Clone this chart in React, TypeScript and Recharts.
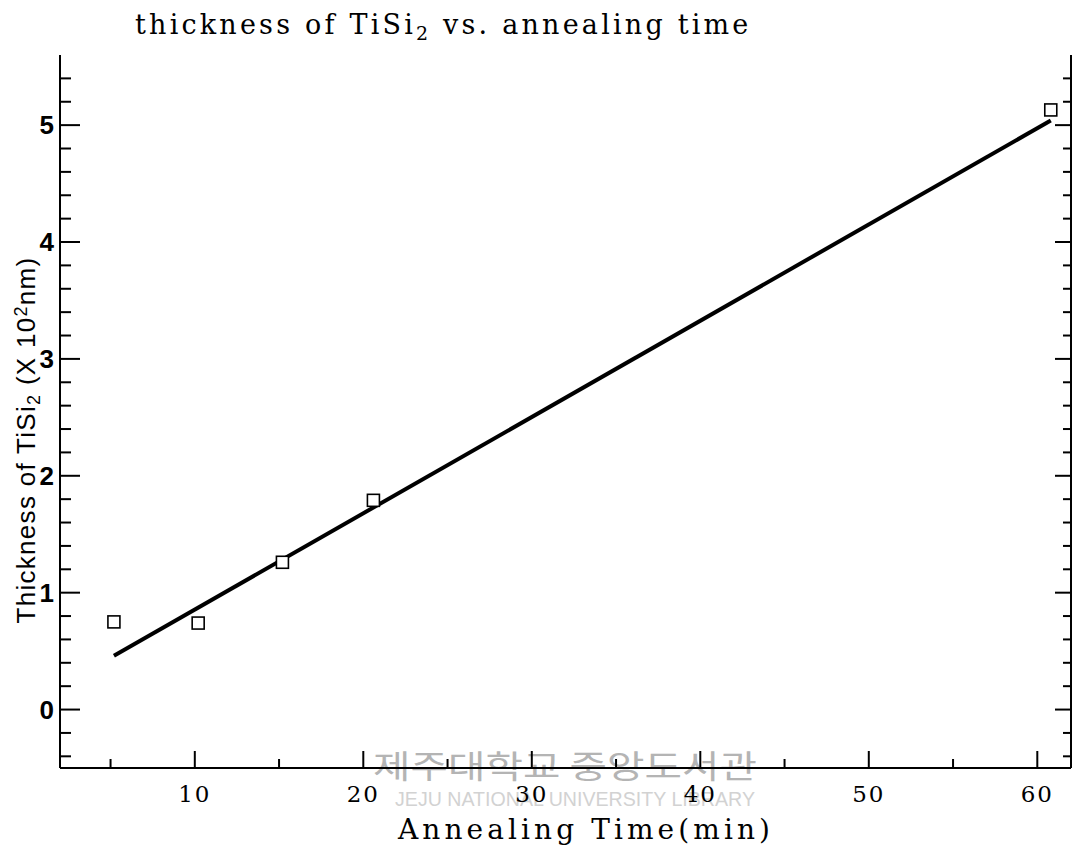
import React from "react";
import { ComposedChart, Scatter, XAxis, YAxis } from "recharts";

const measured = [
  { x: 5.2, y: 0.75 },
  { x: 10.2, y: 0.74 },
  { x: 15.2, y: 1.26 },
  { x: 20.6, y: 1.79 },
  { x: 60.8, y: 5.13 },
];
const fitLine = [
  { x: 5.2, y: 0.46 },
  { x: 60.8, y: 5.04 },
];
const xTicks = [5, 10, 15, 20, 25, 30, 35, 40, 45, 50, 55, 60];
const yTicks = [-0.4, -0.2, 0, 0.2, 0.4, 0.6, 0.8, 1, 1.2, 1.4, 1.6, 1.8, 2, 2.2, 2.4, 2.6, 2.8, 3, 3.2, 3.4, 3.6, 3.8, 4, 4.2, 4.4, 4.6, 4.8, 5, 5.2, 5.4];
const xDomain = [2, 62];
const yDomain = [-0.5, 5.6];
const titleText = "thickness of TiSi";
const xLabel = "Annealing Time(min)";
const watermarkKr = "제주대학교 중앙도서관";
const watermarkEn = "JEJU NATIONAL UNIVERSITY LIBRARY";

const isMajorY = (v: number) => Math.abs(v - Math.round(v)) < 1e-6;
const isMajorX = (v: number) => v % 10 === 0;

const BottomTick = (p: any) => {
  const v = p.payload.value;
  const major = isMajorX(v);
  return (
    <g>
      <line x1={p.x} x2={p.x} y1={p.y} y2={p.y - (major ? 17 : 9)} stroke="#000" strokeWidth={2} />
      {major && (
        <text x={p.x} y={p.y + 34} textAnchor="middle" fontFamily="DejaVu Serif" fontSize={23} letterSpacing={2} fill="#000">
          {v}
        </text>
      )}
    </g>
  );
};
const TopTick = (p: any) => {
  const major = isMajorX(p.payload.value);
  return <line x1={p.x} x2={p.x} y1={p.y} y2={p.y + (major ? 18 : 10)} stroke="#000" strokeWidth={2} />;
};
const LeftTick = (p: any) => {
  const v = p.payload.value;
  const major = isMajorY(v);
  return (
    <g>
      <line x1={p.x} x2={p.x + (major ? 20 : 11)} y1={p.y} y2={p.y} stroke="#000" strokeWidth={2} />
      {major && (
        <text x={p.x - 6} y={p.y + 9} textAnchor="end" fontFamily="Liberation Sans" fontWeight="bold" fontSize={26} fill="#000">
          {Math.round(v)}
        </text>
      )}
    </g>
  );
};
const RightTick = (p: any) => {
  const major = isMajorY(p.payload.value);
  return <line x1={p.x} x2={p.x - (major ? 16 : 8)} y1={p.y} y2={p.y} stroke="#000" strokeWidth={2} />;
};
const Square = (p: any) => (
  <rect x={p.cx - 6} y={p.cy - 6} width={12} height={12} fill="#fff" stroke="#000" strokeWidth={1.6} />
);
const NoShape = () => <g />;

export default function App() {
  return (
    <div style={{ width: 1073, height: 845, background: "#fff" }}>
      <ComposedChart
        width={1073}
        height={845}
        margin={{ top: 47, right: 0, bottom: 0, left: 0 }}
      >
        <text x={557} y={770} textAnchor="middle" fontFamily="Noto Sans CJK KR" fontSize={32} textLength={384} lengthAdjust="spacingAndGlyphs" fill="#b4b4b4">
          {watermarkKr}
        </text>
        <text x={567} y={798} textAnchor="middle" fontFamily="Liberation Sans" fontSize={21} textLength={360} lengthAdjust="spacingAndGlyphs" fill="#d2d2d2">
          {watermarkEn}
        </text>
        <XAxis
          xAxisId="b"
          type="number"
          dataKey="x"
          domain={xDomain}
          ticks={xTicks}
          interval={0}
          height={85}
          tickSize={0}
          tickMargin={0}
          tickLine={false}
          axisLine={{ stroke: "#000", strokeWidth: 2 }}
          tick={<BottomTick />}
          allowDataOverflow
        />
        <XAxis
          xAxisId="t"
          orientation="top"
          type="number"
          dataKey="x"
          domain={xDomain}
          ticks={xTicks}
          interval={0}
          height={0}
          tickSize={0}
          tickMargin={0}
          tickLine={false}
          axisLine={{ stroke: "#000", strokeWidth: 2 }}
          tick={<TopTick />}
          allowDataOverflow
        />
        <YAxis
          yAxisId="l"
          type="number"
          dataKey="y"
          domain={yDomain}
          ticks={yTicks}
          interval={0}
          width={52}
          tickSize={0}
          tickMargin={0}
          tickLine={false}
          axisLine={{ stroke: "#000", strokeWidth: 2 }}
          tick={<LeftTick />}
          allowDataOverflow
        />
        <YAxis
          yAxisId="r"
          orientation="right"
          type="number"
          dataKey="y"
          domain={yDomain}
          ticks={yTicks}
          interval={0}
          width={10}
          tickSize={0}
          tickMargin={0}
          tickLine={false}
          axisLine={{ stroke: "#000", strokeWidth: 2 }}
          tick={<RightTick />}
          allowDataOverflow
        />
        <Scatter xAxisId="t" yAxisId="r" data={fitLine} shape={<NoShape />} isAnimationActive={false} />
        <Scatter
          xAxisId="b"
          yAxisId="l"
          data={fitLine}
          line={{ stroke: "#000", strokeWidth: 4 }}
          lineType="joint"
          shape={<NoShape />}
          isAnimationActive={false}
        />
        <Scatter xAxisId="b" yAxisId="l" data={measured} shape={<Square />} isAnimationActive={false} />
        <text x={127} y={26} fontFamily="DejaVu Serif" fontSize={27} letterSpacing={3.2} fill="#000">
          {titleText}
          <tspan fontSize={19} dy={6}>2</tspan>
          <tspan dy={-6}> vs. annealing time</tspan>
        </text>
        <text x={576} y={831} textAnchor="middle" fontFamily="DejaVu Serif" fontSize={28} textLength={372} lengthAdjust="spacing" fill="#000">
          {xLabel}
        </text>
        <text
          transform="translate(27,432) rotate(-90)"
          textAnchor="middle"
          fontFamily="Liberation Sans"
          fontSize={26}
          letterSpacing={1.3}
          fill="#000"
        >
          Thickness of TiSi<tspan fontSize={18} dy={5}>2</tspan>
          <tspan dy={-5}> (X 10</tspan>
          <tspan fontSize={18} dy={-8}>2</tspan>
          <tspan dy={8}>nm)</tspan>
        </text>
      </ComposedChart>
    </div>
  );
}
